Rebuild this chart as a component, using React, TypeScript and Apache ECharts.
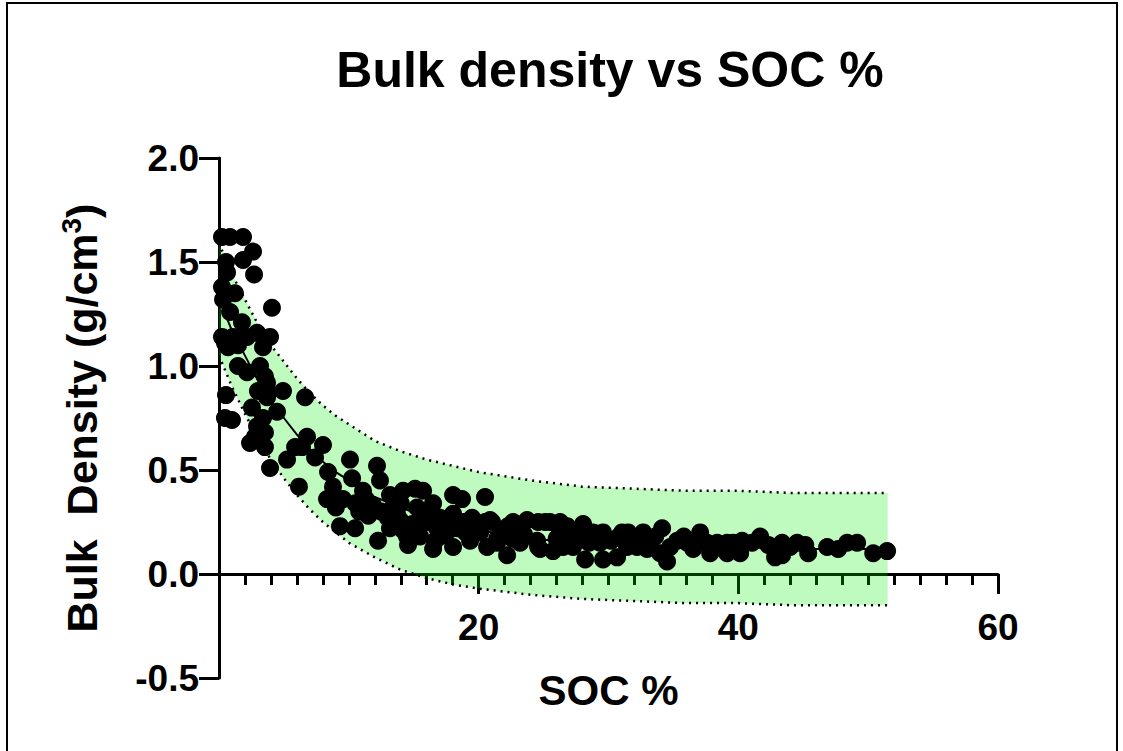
import React, { useEffect, useRef } from "react";
import * as echarts from "echarts";

// Scatter data: SOC % (x) and bulk density g/cm3 (y)
const socPercent = [
  0.23, 0.85, 1.85, 2.62, 1.85, 2.7, 0.54, 0.62, 0.23, 1.23, 0.31, 4.08, 0.85, 1.77, 0.23, 1.08, 2.16, 2.93, 3.93, 3.39,
  0.69, 1.46, 0.46, 1.46, 2.16, 3.16, 3.54, 4.93, 6.63, 3.0, 3.7, 0.54, 2.54, 4.47, 3.39, 0.46, 1.0, 2.93, 6.78, 8.01,
  3.78, 3.7, 2.39, 3.54, 3.54, 2.77, 3.93, 5.24, 5.86, 7.4, 8.4, 6.16, 8.78, 8.32, 9.55, 10.09, 10.25, 9.32, 10.48, 11.09,
  12.17, 12.4, 12.25, 13.17, 14.18, 15.1, 13.71, 14.18, 14.56, 15.25, 15.72, 16.49, 16.64, 17.26, 18.03, 18.72, 18.03, 18.8, 19.49, 20.49,
  20.11, 20.88, 21.42, 22.19, 22.27, 22.96, 23.73, 24.58, 25.12, 6.39, 11.86, 13.41, 13.94, 16.02, 13.17, 14.48, 15.72, 15.49, 16.02, 17.03,
  18.03, 18.34, 20.49, 21.03, 22.65, 24.58, 25.5, 26.27, 16.49, 19.34, 20.65, 21.42, 23.19, 24.5, 24.73, 25.73, 26.27, 26.81, 17.03, 15.49,
  28.04, 27.04, 27.81, 28.81, 29.58, 31.05, 31.51, 32.67, 34.13, 37.06, 35.29, 36.06, 37.6, 38.37, 39.14, 26.5, 27.27, 28.2, 29.58, 30.66,
  32.2, 32.97, 33.98, 34.51, 33.2, 34.75, 36.52, 37.83, 39.14, 29.35, 31.43, 38.83, 39.6, 40.29, 40.14, 41.06, 41.68, 42.3, 42.83, 43.37,
  43.99, 44.53, 45.15, 45.38, 43.37, 46.84, 47.69, 48.38, 49.15, 50.39, 51.46, 10.8, 11.5, 12.5, 9.0, 10.5, 11.3, 14.9, 16.8, 17.7,
  19.0, 19.8, 21.8, 22.6, 23.5, 26.0, 27.5, 28.5, 30.2, 30.8, 32.0, 33.6, 35.8, 36.8, 38.0, 13.0, 14.0,
];
const bulkDensity = [
  1.62, 1.62, 1.62, 1.55, 1.51, 1.44, 1.5, 1.45, 1.38, 1.35, 1.32, 1.28, 1.26, 1.21, 1.14, 1.14, 1.14, 1.16, 1.14, 1.09,
  1.09, 1.1, 1.11, 1.0, 0.97, 1.0, 0.95, 0.88, 0.85, 0.88, 0.85, 0.86, 0.8, 0.78, 0.75, 0.75, 0.74, 0.71, 0.66, 0.62,
  0.87, 0.92, 0.63, 0.68, 0.61, 0.66, 0.51, 0.55, 0.61, 0.56, 0.49, 0.42, 0.42, 0.36, 0.36, 0.55, 0.46, 0.23, 0.22, 0.4,
  0.52, 0.45, 0.16, 0.38, 0.4, 0.41, 0.29, 0.21, 0.14, 0.32, 0.27, 0.34, 0.16, 0.26, 0.38, 0.36, 0.13, 0.25, 0.27, 0.37,
  0.2, 0.26, 0.15, 0.09, 0.23, 0.2, 0.26, 0.13, 0.25, 0.61, 0.33, 0.32, 0.26, 0.28, 0.22, 0.18, 0.4, 0.26, 0.25, 0.27,
  0.29, 0.22, 0.25, 0.25, 0.25, 0.25, 0.25, 0.25, 0.12, 0.16, 0.13, 0.17, 0.15, 0.16, 0.12, 0.11, 0.2, 0.23, 0.18, 0.18,
  0.24, 0.18, 0.18, 0.2, 0.2, 0.2, 0.2, 0.2, 0.22, 0.2, 0.16, 0.15, 0.15, 0.15, 0.15, 0.13, 0.13, 0.07, 0.07, 0.08,
  0.13, 0.12, 0.1, 0.06, 0.15, 0.13, 0.12, 0.1, 0.1, 0.15, 0.13, 0.13, 0.15, 0.16, 0.1, 0.15, 0.18, 0.14, 0.08, 0.15,
  0.13, 0.15, 0.14, 0.1, 0.09, 0.13, 0.12, 0.15, 0.15, 0.1, 0.11, 0.3, 0.28, 0.3, 0.32, 0.34, 0.36, 0.24, 0.22, 0.21,
  0.2, 0.22, 0.2, 0.17, 0.19, 0.17, 0.2, 0.15, 0.16, 0.18, 0.17, 0.18, 0.18, 0.16, 0.13, 0.27, 0.34,
];

// Fitted curve and prediction band
const fitSoc = [0, 1, 2, 3, 4, 5, 6, 7, 8, 9, 10, 12, 14, 16, 18, 20, 24, 28, 32, 36, 40, 44, 48, 51.5];
const fitDensity = [1.32, 1.17, 1.05, 0.93, 0.83, 0.75, 0.67, 0.6, 0.54, 0.49, 0.45, 0.37, 0.32, 0.27, 0.24, 0.21, 0.17, 0.15, 0.14, 0.13, 0.13, 0.12, 0.12, 0.12];
const bandUpper = [1.59, 1.44, 1.32, 1.2, 1.1, 1.02, 0.94, 0.87, 0.81, 0.76, 0.72, 0.64, 0.59, 0.55, 0.52, 0.49, 0.45, 0.42, 0.41, 0.4, 0.4, 0.39, 0.39, 0.39];
const bandLower = [1.05, 0.9, 0.77, 0.65, 0.55, 0.46, 0.38, 0.31, 0.25, 0.2, 0.15, 0.08, 0.02, -0.02, -0.05, -0.07, -0.1, -0.12, -0.13, -0.14, -0.14, -0.15, -0.15, -0.15];

const titleText = "Bulk density vs SOC %";
const xAxisName = "SOC %";
const yAxisNameRich = "{n|Bulk  Density (g/cm}{s|3}{n|)}";

const FONT = "'Liberation Sans', Arial, Helvetica, sans-serif";

export default function App() {
  const ref = useRef<HTMLDivElement>(null);

  useEffect(() => {
    if (!ref.current) return;
    const chart = echarts.init(ref.current, null, { renderer: "svg" });

    const scatterData = socPercent.map((x, i) => [x, bulkDensity[i]]);
    const fitData = fitSoc.map((x, i) => [x, fitDensity[i]]);
    const upperData = fitSoc.map((x, i) => [x, bandUpper[i]]);
    const lowerData = fitSoc.map((x, i) => [x, bandLower[i]]);

    const axisText = { color: "#000", fontFamily: FONT, fontWeight: "bold" as const, fontSize: 37 };

    chart.setOption({
      animation: false,
      backgroundColor: "#fff",
      grid: { left: 219, right: 125, top: 158, bottom: 73, containLabel: false, outerBoundsMode: "none" },
      graphic: [
        {
          type: "rect",
          shape: { x: 7, y: 3, width: 1110, height: 800 },
          style: { fill: "none", stroke: "#000", lineWidth: 2 },
          silent: true,
        },
        {
          type: "text",
          x: 610,
          y: 70,
          style: {
            text: titleText,
            fill: "#000",
            font: `bold 50px ${FONT}`,
            textAlign: "center",
            textVerticalAlign: "middle",
          },
        },
      ],
      xAxis: {
        type: "value",
        min: 0,
        max: 60,
        interval: 20,
        axisLine: { show: true, onZero: true, lineStyle: { color: "#000", width: 3 } },
        axisTick: { show: true, length: 20, lineStyle: { color: "#000", width: 3 } },
        minorTick: { show: true, splitNumber: 10, length: 11, lineStyle: { color: "#000", width: 3 } },
        splitLine: { show: false },
        minorSplitLine: { show: false },
        axisLabel: {
          ...axisText,
          margin: -69,
          formatter: (v: number) => (v === 0 ? "" : String(v)),
        },
        name: xAxisName,
        nameLocation: "middle",
        nameGap: -9,
        nameTextStyle: { ...axisText, fontSize: 42 },
      },
      yAxis: {
        type: "value",
        min: -0.5,
        max: 2.0,
        interval: 0.5,
        axisLine: { show: true, onZero: false, lineStyle: { color: "#000", width: 3 } },
        axisTick: { show: true, length: 20, lineStyle: { color: "#000", width: 3 } },
        splitLine: { show: false },
        axisLabel: {
          ...axisText,
          margin: 20,
          formatter: (v: number) => v.toFixed(1),
        },
        name: yAxisNameRich,
        nameLocation: "middle",
        nameGap: 112,
        nameRotate: 90,
        nameTextStyle: {
          rich: {
            n: { fontFamily: FONT, fontWeight: "bold", fontSize: 43, color: "#000", lineHeight: 50 },
            s: { fontFamily: FONT, fontWeight: "bold", fontSize: 28, color: "#000", verticalAlign: "top", lineHeight: 50 },
          },
        },
      },
      series: [
        {
          type: "custom",
          silent: true,
          z: 2,
          data: [[0, 0]],
          renderItem: (_params: any, api: any) => {
            const pts: number[][] = [];
            for (let i = 0; i < fitSoc.length; i++) pts.push(api.coord([fitSoc[i], bandUpper[i]]));
            for (let i = fitSoc.length - 1; i >= 0; i--) pts.push(api.coord([fitSoc[i], bandLower[i]]));
            return {
              type: "polygon",
              shape: { points: pts },
              style: { fill: "rgba(0,235,0,0.25)", stroke: "none" },
            };
          },
        },
        {
          type: "line",
          data: upperData,
          symbol: "none",
          z: 3,
          silent: true,
          lineStyle: { color: "#000", width: 2.5, type: [2, 5] },
        },
        {
          type: "line",
          data: lowerData,
          symbol: "none",
          z: 3,
          silent: true,
          lineStyle: { color: "#000", width: 2.5, type: [2, 5] },
        },
        {
          type: "line",
          data: fitData,
          symbol: "none",
          z: 3,
          silent: true,
          lineStyle: { color: "#000", width: 2 },
        },
        {
          type: "scatter",
          data: scatterData,
          symbol: "circle",
          symbolSize: 18,
          z: 4,
          itemStyle: { color: "#000", opacity: 1 },
        },
      ],
    });

    return () => chart.dispose();
  }, []);

  return (
    <div
      ref={ref}
      style={{ position: "fixed", left: 0, top: 0, width: 1123, height: 751, background: "#fff" }}
    />
  );
}
